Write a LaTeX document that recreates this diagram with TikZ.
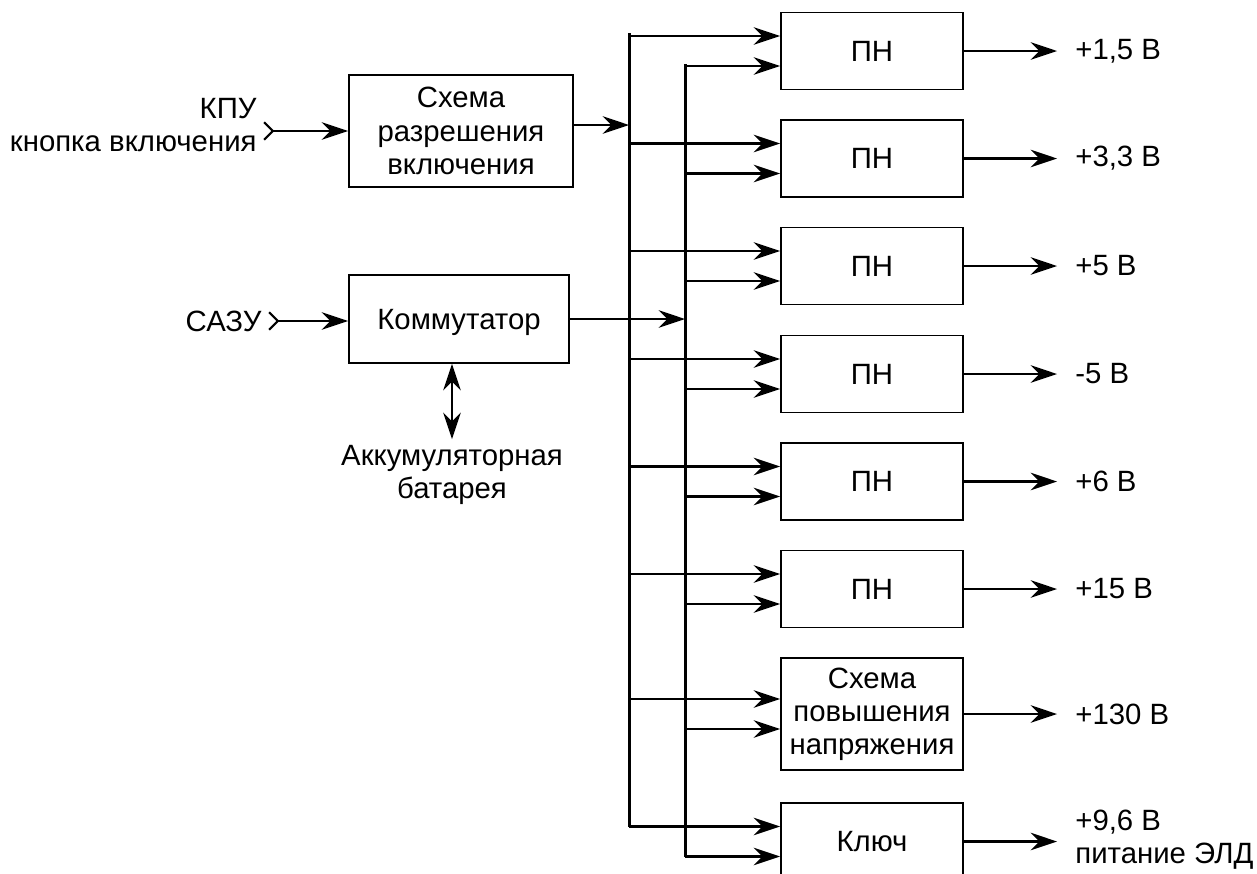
\documentclass[tikz,border=0pt]{standalone}
\usepackage{fontspec}
\setmainfont{Liberation Sans}
\usetikzlibrary{arrows.meta,positioning,calc}

\begin{document}
\begin{tikzpicture}[x=0.02cm,y=-0.02cm,
    font=\fontsize{16.7pt}{18.9pt}\selectfont,
    >={Stealth[length=15pt,width=10pt,inset=5pt]},
    blk/.style={draw,line width=1.1pt,minimum width=3.64cm,minimum height=1.54cm,
                align=center,inner sep=2pt},
    arr/.style={line width=1.2pt,->},
    dblarr/.style={line width=1.2pt,<->},
    inarr/.style={line width=1.2pt,{Straight Barb[reversed,length=5pt,width=10pt]}-{>}},
    bus/.style={line width=1.7pt},
    outlbl/.style={anchor=west,inner xsep=0pt,align=left}]
  \useasboundingbox (0,0) rectangle (1257,873);

  %% Left part
  \node[blk,minimum width=4.48cm,minimum height=2.24cm] (razr) at (461,131)
    {Схема\\разрешения\\включения};
  \node[blk,minimum width=4.4cm,minimum height=1.76cm,text depth=0pt] (komm) at (459,319)
    {Коммутатор};
  \node[anchor=east,align=right,inner xsep=3.5pt] (kpu) at (263,125)
    {КПУ\\кнопка включения};
  \node[anchor=east,inner xsep=3.5pt] (sazu) at (268,321) {САЗУ};
  \node[align=center] (akb) at (452,475) {Аккумуляторная\\батарея};

  \draw[inarr] (kpu.east |- razr.west) -- (razr.west);
  \draw[inarr] (sazu.east) -- (sazu.east -| komm.west);
  \draw[dblarr] (komm.south -| akb.north) -- (akb.north);

  %% Converters
  \foreach \i/\y/\v in {1/51/{+1,5 В},2/158.5/{+3,3 В},3/266/{+5 В},
                        4/374/{-5 В},5/481.5/{+6 В},6/589/{+15 В}} {
    \node[blk] (pn\i) at (872,\y) {ПН};
    \node[outlbl] (vpn\i) at (1075,\y) {\v};
  }
  \node[blk,minimum height=2.24cm] (boost) at (872,714)
    {Схема\\повышения\\напряжения};
  \node[outlbl] (vboost) at (1075,714) {+130 В};
  \node[blk] (key) at (872,841.5) {Ключ};
  \node[outlbl] (vkey) at (1075,840) {+9,6 В\\питание ЭЛД};

  %% Buses
  \coordinate (b1) at (629,33);
  \coordinate (b2) at (685,64);
  \foreach \n in {pn1,pn2,pn3,pn4,pn5,pn6,boost,key} {
    \coordinate (\n-a) at ($(\n.west)+(0,-15)$);
    \coordinate (\n-b) at ($(\n.west)+(0,15)$);
    \draw[arr] (b1 |- \n-a) -- (\n-a);
    \draw[arr] (b2 |- \n-b) -- (\n-b);
    \draw[arr,shorten >=0.36cm] (\n.east) -- (\n.east -| v\n.west);
  }
  \draw[bus] (b1) -- (b1 |- key-a);
  \draw[bus] (b2) -- (b2 |- key-b);

  \coordinate (razrout) at ($(razr.east)+(0,-6)$);
  \draw[arr] (razrout) -- (razrout -| b1);
  \draw[arr] (komm.east) -- (komm.east -| b2);
\end{tikzpicture}
\end{document}
